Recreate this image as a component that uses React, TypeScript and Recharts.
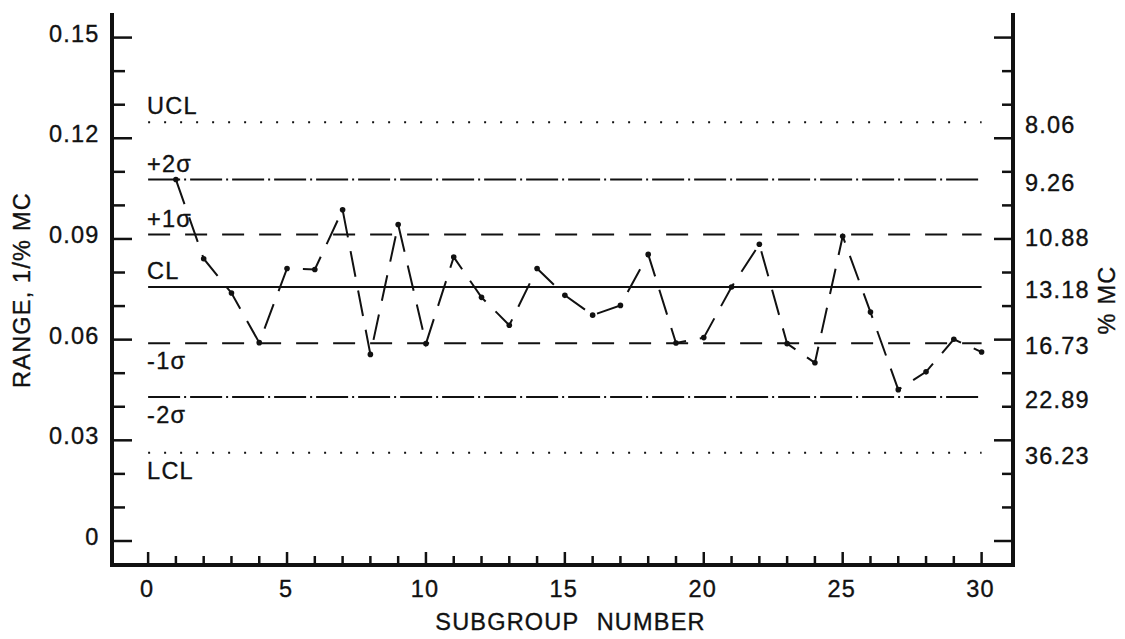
import React from 'react';
import { ComposedChart, Line, XAxis, YAxis, ReferenceLine, Label } from 'recharts';

// ---- data ----
const subgroups = [1, 2, 3, 4, 5, 6, 7, 8, 9, 10, 11, 12, 13, 14, 15, 16, 17, 18, 19, 20, 21, 22, 23, 24, 25, 26, 27, 28, 29, 30];
const ranges = [
  0.1077, 0.0841, 0.0739, 0.0591, 0.0812, 0.0809, 0.0987, 0.0556, 0.0943, 0.0588,
  0.0846, 0.0726, 0.0643, 0.0812, 0.0732, 0.0673, 0.0702, 0.0854, 0.059, 0.0606,
  0.0757, 0.0884, 0.0588, 0.0531, 0.0908, 0.0682, 0.0451, 0.0504, 0.0601, 0.0563,
];

const xTicks = [0, 1, 2, 3, 4, 5, 6, 7, 8, 9, 10, 11, 12, 13, 14, 15, 16, 17, 18, 19, 20, 21, 22, 23, 24, 25, 26, 27, 28, 29, 30];
const xMajorTicks = [0, 5, 10, 15, 20, 25, 30];
const xTickLabels = ['0', '5', '10', '15', '20', '25', '30'];

const yTicks = [0, 0.01, 0.02, 0.03, 0.04, 0.05, 0.06, 0.07, 0.08, 0.09, 0.1, 0.11, 0.12, 0.13, 0.14, 0.15];
const yMajorTicks = [0, 0.03, 0.06, 0.09, 0.12, 0.15];
const yTickLabels = ['0', '0.03', '0.06', '0.09', '0.12', '0.15'];

const controlNames = ['UCL', '+2σ', '+1σ', 'CL', '-1σ', '-2σ', 'LCL'];
const controlValues = [0.1248, 0.1077, 0.0913, 0.0757, 0.0589, 0.0429, 0.0263];
const controlMcLabels = ['8.06', '9.26', '10.88', '13.18', '16.73', '22.89', '36.23'];
const controlStart = 0;
const controlEnd = 30;

const X_DOMAIN: [number, number] = [-1.3, 31.13];
const Y_DOMAIN: [number, number] = [-0.00715, 0.15673];

// ---- styles ----
const FONT = '"Liberation Sans", Arial, Helvetica, sans-serif';
const INK = '#111';
const textStyle = {
  fontFamily: FONT,
  fontSize: 23.5,
  letterSpacing: 1.2,
  fill: INK,
  stroke: INK,
  strokeWidth: 0.35,
} as const;

const lineStyles: Record<string, { dash?: string; above: boolean }> = {
  'UCL': { dash: '2 14', above: true },
  '+2σ': { dash: '32 4 2 4', above: true },
  '+1σ': { dash: '22 15', above: true },
  'CL': { dash: undefined, above: true },
  '-1σ': { dash: '22 15', above: false },
  '-2σ': { dash: '32 4 2 4', above: false },
  'LCL': { dash: '2 14', above: false },
};

const rows = subgroups.map((s, i) => ({ subgroup: s, range: ranges[i] }));

const near = (a: number, b: number) => Math.abs(a - b) < 1e-9;

const BottomTick = (props: any) => {
  const { x, y, payload } = props;
  const v = payload.value;
  const mi = xMajorTicks.findIndex((m) => near(m, v));
  const major = mi >= 0;
  return (
    <g>
      <line x1={x} x2={x} y1={y} y2={y - (major ? 13 : 9)} stroke={INK} strokeWidth={2.5} />
      {major && (
        <text x={x - 1} y={y + 32} textAnchor="middle" style={textStyle}>
          {xTickLabels[mi]}
        </text>
      )}
    </g>
  );
};

const TopTick = (props: any) => {
  const { x, y, payload } = props;
  const major = xMajorTicks.some((m) => near(m, payload.value));
  return <line x1={x} x2={x} y1={y} y2={y + (major ? 14 : 11)} stroke={INK} strokeWidth={2.5} />;
};

const LeftTick = (props: any) => {
  const { x, y, payload } = props;
  const mi = yMajorTicks.findIndex((m) => near(m, payload.value));
  const major = mi >= 0;
  return (
    <g>
      <line x1={x} x2={x + (major ? 20 : 13)} y1={y} y2={y} stroke={INK} strokeWidth={2.5} />
      {major && (
        <text x={x - 12.5} y={y + 4} textAnchor="end" style={textStyle}>
          {yTickLabels[mi]}
        </text>
      )}
    </g>
  );
};

const RightTick = (props: any) => {
  const { x, y, payload } = props;
  const v = payload.value;
  const ci = controlValues.findIndex((c) => near(c, v));
  if (ci >= 0) {
    return (
      <text x={x + 12} y={y + 11} textAnchor="start" style={textStyle}>
        {controlMcLabels[ci]}
      </text>
    );
  }
  const major = yMajorTicks.some((m) => near(m, v));
  return <line x1={x} x2={x - (major ? 19 : 11)} y1={y} y2={y} stroke={INK} strokeWidth={2.5} />;
};

const frameLine = { stroke: INK, strokeWidth: 4, strokeLinecap: 'square' as const };

export default function App() {
  return (
    <ComposedChart
      width={1117}
      height={631}
      data={rows}
      margin={{ top: 7, right: 2, bottom: 14, left: 14 }}
      style={{ background: '#fff' }}
    >
      <XAxis
        dataKey="subgroup"
        type="number"
        domain={X_DOMAIN}
        allowDataOverflow
        ticks={xTicks}
        interval={0}
        tickSize={0}
        tickMargin={0}
        tickLine={false}
        axisLine={frameLine}
        tick={(p: any) => <BottomTick {...p} />}
        height={60}
      >
        <Label
          content={(p: any) => {
            const vb = p.viewBox || {};
            return (
              <text
                x={vb.x + vb.width / 2 + 8}
                y={vb.y + 65}
                textAnchor="middle"
                style={{ ...textStyle, wordSpacing: 10 }}
              >
                SUBGROUP NUMBER
              </text>
            );
          }}
        />
      </XAxis>
      <XAxis
        xAxisId="top"
        orientation="top"
        type="number"
        domain={X_DOMAIN}
        allowDataOverflow
        ticks={xTicks}
        interval={0}
        tickSize={0}
        tickMargin={0}
        tickLine={false}
        axisLine={frameLine}
        tick={(p: any) => <TopTick {...p} />}
        height={0}
      />
      <YAxis
        type="number"
        domain={Y_DOMAIN}
        allowDataOverflow
        ticks={yTicks}
        interval={0}
        tickSize={0}
        tickMargin={0}
        tickLine={false}
        axisLine={frameLine}
        tick={(p: any) => <LeftTick {...p} />}
        width={90}
      >
        <Label
          content={(p: any) => {
            const vb = p.viewBox || {};
            const cx = vb.x + vb.width - 90;
            const cy = vb.y + vb.height / 2;
            return (
              <text
                x={cx}
                y={cy}
                textAnchor="middle"
                dominantBaseline="central"
                transform={`rotate(-90 ${cx} ${cy})`}
                style={textStyle}
              >
                RANGE, 1/% MC
              </text>
            );
          }}
        />
      </YAxis>
      <YAxis
        yAxisId="right"
        orientation="right"
        type="number"
        domain={Y_DOMAIN}
        allowDataOverflow
        ticks={[...yTicks, ...controlValues]}
        interval={0}
        tickSize={0}
        tickMargin={0}
        tickLine={false}
        axisLine={frameLine}
        tick={(p: any) => <RightTick {...p} />}
        width={110}
      >
        <Label
          content={(p: any) => {
            const vb = p.viewBox || {};
            const cx = vb.x + 94;
            const cy = vb.y + vb.height / 2 + 10;
            return (
              <text
                x={cx}
                y={cy}
                textAnchor="middle"
                dominantBaseline="central"
                transform={`rotate(-90 ${cx} ${cy})`}
                style={textStyle}
              >
                % MC
              </text>
            );
          }}
        />
      </YAxis>

      {controlNames.map((name, i) => {
        const st = lineStyles[name];
        return (
          <ReferenceLine
            key={name}
            segment={[
              { x: controlStart, y: controlValues[i] },
              { x: controlEnd, y: controlValues[i] },
            ]}
            stroke={INK}
            strokeWidth={2}
            strokeDasharray={st.dash}
            label={(p: any) => {
              const vb = p.viewBox || {};
              return (
                <text
                  x={vb.x - 1}
                  y={st.above ? vb.y - 8 : vb.y + 26}
                  textAnchor="start"
                  style={textStyle}
                >
                  {name}
                </text>
              );
            }}
          />
        );
      })}

      <Line
        dataKey="range"
        type="linear"
        stroke={INK}
        strokeWidth={2}
        strokeDasharray="26 14"
        dot={{ r: 2.8, fill: INK, stroke: 'none', strokeWidth: 0 }}
        isAnimationActive={false}
      />
    </ComposedChart>
  );
}
